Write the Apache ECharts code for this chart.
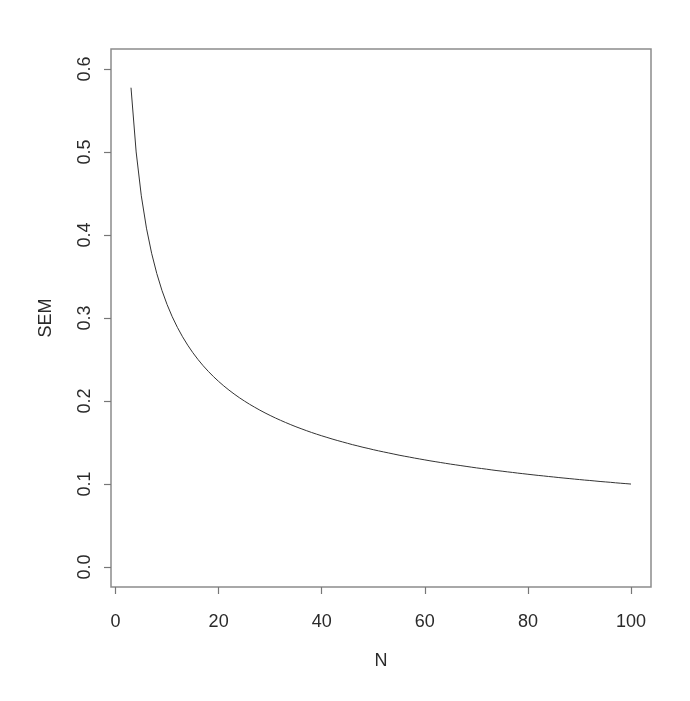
<!DOCTYPE html>
<html><head><meta charset="utf-8">
<script src="https://cdn.jsdelivr.net/npm/echarts@6/dist/echarts.min.js"></script>
<style>html,body{margin:0;padding:0;background:#fff}#c{width:690px;height:701px}</style>
</head><body><div id="c"></div>
<script>
const nValues = [3,4,5,6,7,8,9,10,11,12,13,14,15,16,17,18,19,20,21,22,23,24,25,26,27,28,29,30,31,32,33,34,35,36,37,38,39,40,41,42,43,44,45,46,47,48,49,50,51,52,53,54,55,56,57,58,59,60,61,62,63,64,65,66,67,68,69,70,71,72,73,74,75,76,77,78,79,80,81,82,83,84,85,86,87,88,89,90,91,92,93,94,95,96,97,98,99,100];
const semValues = [0.5774,0.5,0.4472,0.4082,0.3780,0.3536,0.3333,0.3162,0.3015,0.2887,0.2774,0.2673,0.2582,0.25,0.2425,0.2357,0.2294,0.2236,0.2182,0.2132,0.2085,0.2041,0.2,0.1961,0.1925,0.1890,0.1857,0.1826,0.1796,0.1768,0.1741,0.1715,0.1690,0.1667,0.1644,0.1622,0.1601,0.1581,0.1562,0.1543,0.1525,0.1508,0.1491,0.1474,0.1459,0.1443,0.1429,0.1414,0.1400,0.1387,0.1374,0.1361,0.1348,0.1336,0.1325,0.1313,0.1302,0.1291,0.1280,0.1270,0.1260,0.125,0.1240,0.1231,0.1222,0.1213,0.1204,0.1195,0.1187,0.1179,0.1170,0.1162,0.1155,0.1147,0.1140,0.1132,0.1125,0.1118,0.1111,0.1104,0.1098,0.1091,0.1085,0.1078,0.1072,0.1066,0.1060,0.1054,0.1048,0.1043,0.1037,0.1031,0.1026,0.1021,0.1015,0.1010,0.1005,0.1];
const xTicks = [0,20,40,60,80,100];
const yTicks = [0.0,0.1,0.2,0.3,0.4,0.5,0.6];
const xName = 'N';
const yName = 'SEM';

const chart = echarts.init(document.getElementById('c'), null, {renderer:'canvas'});
const txt = {color:'#2a2a2a', fontSize:18, fontFamily:'Liberation Sans, Arial, sans-serif'};
chart.setOption({
  animation:false,
  grid:{left:111, top:49, width:540, height:538, show:true, borderColor:'#8c8c8c', borderWidth:1.5, backgroundColor:'transparent'},
  xAxis:{type:'value', min:-0.88, max:103.88,
    name:xName, nameLocation:'middle', nameGap:65, nameTextStyle:Object.assign({},txt),
    axisLine:{show:false, onZero:false}, splitLine:{show:false},
    axisTick:{show:true, inside:false, length:7, customValues:xTicks, lineStyle:{color:'#777', width:1.2}},
    axisLabel:Object.assign({customValues:xTicks, margin:26, formatter:v=>String(v)}, txt)},
  yAxis:{type:'value', min:-0.024, max:0.624,
    name:yName, nameLocation:'middle', nameGap:56, nameRotate:90, nameTextStyle:Object.assign({},txt),
    axisLine:{show:false, onZero:false}, splitLine:{show:false},
    axisTick:{show:true, inside:false, length:7, customValues:yTicks, lineStyle:{color:'#777', width:1.2}},
    axisLabel:Object.assign({customValues:yTicks, margin:17, rotate:90, formatter:v=>v.toFixed(1)}, txt)},
  series:[{type:'line', data:nValues.map((n,i)=>[n, semValues[i]]), showSymbol:false, smooth:false,
    lineStyle:{color:'#333', width:1}}]
});
</script></body></html>
